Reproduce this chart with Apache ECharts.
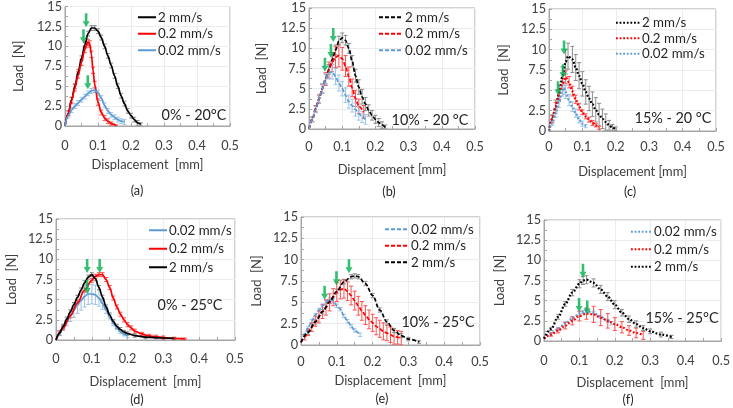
<!DOCTYPE html>
<html><head><meta charset="utf-8">
<script src="https://cdn.jsdelivr.net/npm/echarts@6/dist/echarts.min.js"></script>
<style>html,body{margin:0;padding:0;background:#fff}#c{width:733px;height:408px}</style>
</head><body><div id="c"></div>
<script>
// ---------- DATA ----------
const speedNames = ['2 mm/s', '0.2 mm/s', '0.02 mm/s'];
const xTickLabels = [0, 0.1, 0.2, 0.3, 0.4, 0.5];
const yTickLabels = [0, 2.5, 5, 7.5, 10, 12.5, 15];
const panelLabels = ['(a)', '(b)', '(c)', '(d)', '(e)', '(f)'];
const conditionLabels = ['0% - 20°C', '10% - 20 °C', '15% - 20 °C', '0% - 25°C', '10% - 25°C', '15% - 25°C'];

// (a) 0% - 20°C
const a_2 = [[0,0],[0.01,1.6],[0.02,3.3],[0.03,5.0],[0.04,6.8],[0.05,8.5],[0.06,10.2],[0.07,11.6],[0.08,12.3],[0.09,12.3],[0.1,11.9],[0.11,11.1],[0.12,10.0],[0.13,8.8],[0.14,7.6],[0.15,6.3],[0.16,5.0],[0.17,3.8],[0.18,2.8],[0.19,1.9],[0.2,1.3],[0.21,0.8],[0.22,0.4],[0.23,0.2]];
const a_2_err = [0,0.3,0.3,0.3,0.3,0.3,0.3,0.3,0.3,0.3,0.3,0.3,0.3,0.3,0.3,0.3,0.3,0.3,0.3,0.3,0.3,0.3,0.3,0.2];
const a_02 = [[0,0],[0.01,1.6],[0.02,3.2],[0.03,4.8],[0.04,6.4],[0.05,8.0],[0.06,9.6],[0.065,10.2],[0.07,10.5],[0.075,10.3],[0.08,9.0],[0.085,7.0],[0.09,5.2],[0.1,3.0],[0.11,1.7],[0.12,1.0],[0.13,0.6],[0.14,0.3],[0.155,0.05]];
const a_02_err = [0,0.3,0.4,0.4,0.4,0.4,0.4,0.4,0.4,0.4,0.4,0.4,0.4,0.4,0.3,0.3,0.3,0.2,0.1];
const a_002 = [[0,0],[0.01,1.3],[0.02,2.0],[0.03,2.5],[0.04,2.9],[0.05,3.3],[0.06,3.7],[0.07,4.1],[0.08,4.4],[0.09,4.5],[0.1,4.2],[0.11,3.5],[0.12,2.6],[0.13,1.9],[0.14,1.4],[0.15,1.1],[0.16,0.8],[0.17,0.6],[0.18,0.5]];
const a_002_err = [0,0.3,0.3,0.3,0.3,0.3,0.3,0.3,0.3,0.3,0.3,0.3,0.3,0.3,0.3,0.3,0.3,0.3,0.3];
const a_arrows = [[0.064,12.4],[0.056,10.4],[0.069,4.6]];

// (b) 10% - 20 °C
const b_2 = [[0,0],[0.01,1.2],[0.02,2.5],[0.03,3.7],[0.04,5.0],[0.05,6.2],[0.06,7.4],[0.07,8.6],[0.08,9.8],[0.09,10.9],[0.1,11.3],[0.11,11.0],[0.12,10.0],[0.13,8.4],[0.14,6.6],[0.15,5.2],[0.16,4.0],[0.17,3.1],[0.18,2.3],[0.19,1.7],[0.2,1.2],[0.21,0.8],[0.22,0.5],[0.23,0.2]];
const b_2_err = [0,0.3,0.4,0.5,0.5,0.6,0.6,0.6,0.6,0.6,0.6,0.6,0.6,0.7,0.8,0.9,0.9,0.8,0.7,0.6,0.5,0.5,0.4,0.3];
const b_02 = [[0,0],[0.01,1.2],[0.02,2.5],[0.03,3.7],[0.04,5.0],[0.05,6.2],[0.06,7.3],[0.07,8.3],[0.08,8.9],[0.09,9.1],[0.1,8.7],[0.11,7.8],[0.12,6.5],[0.13,5.1],[0.14,3.8],[0.15,2.8],[0.165,2.1]];
const b_02_err = [0,0.3,0.4,0.5,0.6,0.8,1.0,1.2,1.3,1.4,1.4,1.3,1.2,1.1,1.0,0.9,0.8];
const b_002 = [[0,0],[0.01,1.2],[0.02,2.4],[0.03,3.7],[0.04,5.0],[0.05,6.2],[0.06,7.0],[0.07,7.1],[0.08,6.5],[0.09,5.7],[0.1,5.0],[0.11,4.2],[0.12,3.4],[0.13,2.9],[0.14,2.4],[0.15,1.9],[0.16,1.5],[0.17,1.2]];
const b_002_err = [0,0.3,0.4,0.5,0.6,0.7,0.8,0.9,1.0,1.0,0.9,0.9,0.8,0.8,0.8,0.8,0.7,0.6];
const b_arrows = [[0.073,10.8],[0.066,8.8],[0.048,7.1]];

// (c) 15% - 20 °C
const c_2 = [[0,0],[0.01,1.5],[0.02,3.0],[0.03,4.6],[0.04,6.6],[0.05,8.5],[0.057,9.2],[0.07,8.8],[0.08,7.8],[0.09,6.8],[0.1,5.8],[0.11,4.8],[0.12,4.0],[0.13,3.3],[0.14,2.6],[0.15,2.0],[0.16,1.5],[0.17,1.1],[0.18,0.7],[0.19,0.4],[0.2,0.2]];
const c_2_err = [0,0.5,0.8,1.0,1.3,1.5,1.6,1.6,1.6,1.6,1.5,1.5,1.5,1.5,1.5,1.4,1.2,1.0,0.6,0.4,0.3];
const c_02 = [[0,0],[0.01,1.5],[0.02,3.0],[0.03,4.5],[0.04,5.8],[0.05,6.6],[0.06,6.0],[0.07,4.9],[0.08,3.9],[0.09,3.0],[0.1,2.3],[0.11,1.8],[0.12,1.4],[0.13,1.0],[0.14,0.7],[0.15,0.4]];
const c_02_err = [0,0.4,0.5,0.6,0.7,0.8,0.7,0.6,0.5,0.4,0.3,0.3,0.3,0.3,0.2,0.2];
const c_002 = [[0,0],[0.01,1.0],[0.02,2.2],[0.03,3.5],[0.04,5.0],[0.045,5.3],[0.05,4.8],[0.06,3.8],[0.07,3.0],[0.08,2.2],[0.09,1.4],[0.1,0.9],[0.11,0.6]];
const c_002_err = [0,0.3,0.5,0.6,0.7,0.8,0.8,0.7,0.6,0.5,0.4,0.3,0.2];
const c_arrows = [[0.045,9.4],[0.042,6.5],[0.027,4.4]];

// (d) 0% - 25°C
const d_002 = [[0,0],[0.01,0.75],[0.02,1.5],[0.03,2.25],[0.04,3.0],[0.05,3.7],[0.06,4.4],[0.07,4.9],[0.08,5.4],[0.09,5.7],[0.1,5.7],[0.11,5.6],[0.12,5.2],[0.13,4.5],[0.14,3.7],[0.15,2.9],[0.16,2.1],[0.17,1.5],[0.18,1.0],[0.19,0.7],[0.2,0.5]];
const d_002_err = [0,0.2,0.3,0.5,0.7,0.9,1.1,1.2,1.3,1.3,1.2,1.2,1.0,0.7,0.4,0.3,0.3,0.2,0.2,0.2,0.2];
const d_02 = [[0,0],[0.02,1.5],[0.04,3.0],[0.06,4.6],[0.08,6.2],[0.1,7.4],[0.11,7.9],[0.12,8.1],[0.13,8.1],[0.14,7.5],[0.15,6.5],[0.16,5.2],[0.17,4.1],[0.18,3.2],[0.19,2.5],[0.2,1.9],[0.21,1.5],[0.22,1.1],[0.24,0.75],[0.26,0.5],[0.28,0.4],[0.3,0.3],[0.33,0.2],[0.36,0.15]];
const d_02_err = [0,0.25,0.25,0.25,0.25,0.25,0.25,0.25,0.25,0.25,0.25,0.25,0.25,0.25,0.25,0.25,0.25,0.25,0.2,0.2,0.2,0.2,0.15,0.1];
const d_2 = [[0,0],[0.01,0.85],[0.02,1.7],[0.03,2.6],[0.04,3.5],[0.05,4.4],[0.06,5.3],[0.07,6.2],[0.08,7.1],[0.09,7.8],[0.1,8.1],[0.11,7.6],[0.12,6.5],[0.13,5.3],[0.14,4.1],[0.15,3.1],[0.16,2.3],[0.17,1.7],[0.18,1.3],[0.19,1.0],[0.2,0.8],[0.22,0.55],[0.25,0.35],[0.28,0.3],[0.3,0.25],[0.33,0.2]];
const d_2_err = [0,0.25,0.25,0.25,0.25,0.25,0.25,0.25,0.25,0.25,0.25,0.25,0.25,0.25,0.25,0.25,0.25,0.25,0.25,0.2,0.2,0.2,0.15,0.15,0.1,0.1];
const d_arrows = [[0.087,8.3],[0.122,8.3],[0.087,5.7]];

// (e) 10% - 25°C
const e_002 = [[0,0.3],[0.01,1.2],[0.02,2.0],[0.03,2.8],[0.04,3.5],[0.05,4.1],[0.06,4.6],[0.07,5.0],[0.08,5.4],[0.09,5.2],[0.1,4.6],[0.11,4.2],[0.12,3.4],[0.13,2.8],[0.14,2.2],[0.15,1.7],[0.165,1.2]];
const e_002_err = [0,0.2,0.2,0.2,0.2,0.2,0.2,0.2,0.2,0.2,0.2,0.2,0.2,0.2,0.2,0.2,0.2];
const e_02 = [[0,0.3],[0.01,0.9],[0.02,1.5],[0.03,2.1],[0.04,2.8],[0.05,3.3],[0.06,3.9],[0.07,4.4],[0.08,5.0],[0.09,5.6],[0.1,6.2],[0.11,6.5],[0.12,6.6],[0.13,6.3],[0.14,5.8],[0.15,5.2],[0.16,4.6],[0.17,4.0],[0.18,3.5],[0.19,3.0],[0.2,2.6],[0.21,2.2],[0.22,1.9],[0.23,1.6],[0.24,1.4],[0.25,1.2],[0.26,1.0],[0.27,0.9],[0.28,0.8]];
const e_02_err = [0,0.3,0.4,0.5,0.6,0.7,0.8,0.9,1.0,1.0,1.1,1.1,1.1,1.1,1.1,1.1,1.1,1.1,1.1,1.1,1.0,1.0,1.0,1.0,0.9,0.9,0.9,0.8,0.8];
const e_2 = [[0,0.3],[0.02,1.5],[0.04,2.7],[0.06,3.9],[0.08,5.1],[0.1,6.3],[0.12,7.4],[0.14,8.0],[0.15,8.1],[0.16,8.0],[0.18,7.2],[0.2,5.8],[0.22,4.1],[0.24,2.7],[0.26,1.7],[0.28,1.1],[0.3,0.7],[0.33,0.35]];
const e_2_err = [0,0.25,0.25,0.25,0.25,0.25,0.25,0.25,0.25,0.25,0.25,0.25,0.25,0.25,0.25,0.25,0.2,0.15];
const e_arrows = [[0.134,8.4],[0.099,7.0],[0.066,5.3]];

// (f) 15% - 25°C
const f_002 = [[0,0.3],[0.02,0.9],[0.04,1.5],[0.06,2.2],[0.08,2.8],[0.1,3.4],[0.11,3.6],[0.12,3.7],[0.14,3.5],[0.16,3.0],[0.18,2.5],[0.19,2.2]];
const f_002_err = [0,0.2,0.2,0.2,0.2,0.2,0.2,0.2,0.2,0.2,0.2,0.2];
const f_02 = [[0,0.3],[0.02,0.8],[0.04,1.3],[0.06,1.9],[0.08,2.5],[0.1,3.1],[0.12,3.4],[0.14,3.3],[0.16,2.9],[0.18,2.5],[0.2,2.1],[0.22,1.7],[0.24,1.3],[0.26,1.0],[0.28,0.7]];
const f_02_err = [0,0.2,0.3,0.4,0.5,0.6,0.7,1.0,1.0,0.9,0.8,0.7,0.6,0.6,0.5];
const f_2 = [[0,0.3],[0.02,1.5],[0.04,3.0],[0.06,4.6],[0.08,6.0],[0.1,7.1],[0.11,7.5],[0.12,7.6],[0.14,7.2],[0.16,6.4],[0.18,5.5],[0.2,4.5],[0.22,3.5],[0.24,2.7],[0.26,2.1],[0.28,1.6],[0.3,1.2],[0.33,0.8],[0.36,0.5]];
const f_2_err = [0,0.2,0.3,0.3,0.4,0.5,0.5,0.5,0.5,0.5,0.5,0.5,0.4,0.4,0.4,0.3,0.3,0.3,0.2];
const f_arrows = [[0.11,7.85],[0.099,3.6],[0.122,3.3]];

// ---------- LAYOUT / STYLE ----------
const FONT = 'Lato, "Open Sans", sans-serif';
// font sizes fitted so that text widths match the picture
const meas = document.createElement('canvas').getContext('2d');
function fitSize(sample, targetPx) {
  meas.font = '100px ' + FONT;
  return Math.round(100 * targetPx / meas.measureText(sample).width * 10) / 10;
}
const FS_TICK = fitSize('12.5', 25);
const FS_NAME = fitSize('Displacement', 77);
const FS_LEG  = fitSize('0.02 mm/s', 63);
const FS_COND = fitSize('0% - 20°C', 65);
const FS_LAB  = FS_TICK;

const lineColors = {'2':'#000000','02':'#ff0000','002':'#5b9bd5'};
const errColors  = {'2':'#8c8c8c','02':'#ff5050','002':'#9dc3e6'};
const speedIdx = {'2':0,'02':1,'002':2};
const dashFor = {solid:'solid', dashed:[4,2], dotted:[1.8,1.8]};

const panels = [
  {grid:{left:65,top:6,width:165,height:120}, lt:'solid', order:['2','02','002'],
   series:{'2':[a_2,a_2_err],'02':[a_02,a_02_err],'002':[a_002,a_002_err]}, arrows:a_arrows,
   legend:{left:137,top:9,itemWidth:18,lh:16.5}, cond:[194,115], lab:[137,191], yGap:40, xGap:32, xMargin:13, xName:'Displacement  [mm]'},
  {grid:{left:309,top:8,width:166,height:121}, lt:'dashed', order:['2','02','002'],
   series:{'2':[b_2,b_2_err],'02':[b_02,b_02_err],'002':[b_002,b_002_err]}, arrows:b_arrows,
   legend:{left:378,top:9,itemWidth:24,lh:16.5}, cond:[430,120], lab:[389,192], yGap:41, xGap:34, xMargin:11, xName:'Displacement [mm]'},
  {grid:{left:549,top:9,width:167,height:122}, lt:'dotted', order:['2','02','002'],
   series:{'2':[c_2,c_2_err],'02':[c_02,c_02_err],'002':[c_002,c_002_err]}, arrows:c_arrows,
   legend:{left:615,top:15,itemWidth:24,lh:15.5}, cond:[673,118], lab:[630,192], yGap:39, xGap:34, xMargin:9, xName:'Displacement [mm]'},
  {grid:{left:56,top:219,width:179,height:121}, lt:'solid', order:['002','02','2'],
   series:{'2':[d_2,d_2_err],'02':[d_02,d_02_err],'002':[d_002,d_002_err]}, arrows:d_arrows,
   legend:{left:148,top:221,itemWidth:18,lh:18.5}, cond:[190,305], lab:[137,400], yGap:38, xGap:35, xMargin:12, xName:'Displacement  [mm]'},
  {grid:{left:301,top:217,width:179,height:128}, lt:'dashed', order:['002','02','2'],
   series:{'2':[e_2,e_2_err],'02':[e_02,e_02_err],'002':[e_002,e_002_err]}, arrows:e_arrows,
   legend:{left:384,top:221,itemWidth:24,lh:16.5}, cond:[438,322], lab:[382,399], yGap:38, xGap:29, xMargin:10, xName:'Displacement  [mm]'},
  {grid:{left:544,top:220,width:179,height:121}, lt:'dotted', order:['002','02','2'],
   series:{'2':[f_2,f_2_err],'02':[f_02,f_02_err],'002':[f_002,f_002_err]}, arrows:f_arrows,
   legend:{left:630,top:223,itemWidth:21,lh:17.5}, cond:[682,318], lab:[628,400], yGap:38, xGap:35, xMargin:13, xName:'Displacement  [mm]'}
];

const ZW = '\u200b';
const arrowPath = 'path://M2.2,0 L4.8,0 L4.8,8 L7,8 L3.5,14 L0,8 L2.2,8 Z';

function errRender(params, api) {
  const x = api.value(0), y = api.value(1), e = api.value(2);
  if (!e) return null;
  const hi = api.coord([x, y + e]);
  const lo = api.coord([x, Math.max(0, y - e)]);
  const w = 2;
  const st = {stroke: api.visual('color'), lineWidth: 1};
  return {type:'group', children:[
    {type:'line', shape:{x1:hi[0],y1:hi[1],x2:lo[0],y2:lo[1]}, style:st},
    {type:'line', shape:{x1:hi[0]-w,y1:hi[1],x2:hi[0]+w,y2:hi[1]}, style:st},
    {type:'line', shape:{x1:lo[0]-w,y1:lo[1],x2:lo[0]+w,y2:lo[1]}, style:st}
  ]};
}

const option = {
  animation:false, backgroundColor:'#fff',
  grid:[], xAxis:[], yAxis:[], series:[], legend:[], graphic:[]
};

panels.forEach((p, i) => {
  option.grid.push(Object.assign({show:true, borderColor:'#a6a6a6', borderWidth:1, containLabel:false}, p.grid));
  option.xAxis.push({
    type:'value', gridIndex:i, min:xTickLabels[0], max:xTickLabels[xTickLabels.length-1],
    interval:xTickLabels[1]-xTickLabels[0],
    name:p.xName, nameLocation:'middle', nameGap:p.xGap,
    nameTextStyle:{fontFamily:FONT, fontSize:FS_NAME, color:'#404040'},
    axisLine:{lineStyle:{color:'#a6a6a6'}},
    axisTick:{show:true, inside:true, length:3, lineStyle:{color:'#a6a6a6'}},
    minorTick:{show:true, splitNumber:2, length:3, lineStyle:{color:'#a6a6a6'}},
    axisLabel:{fontFamily:FONT, fontSize:FS_TICK, color:'#404040', margin:p.xMargin},
    splitLine:{show:true, lineStyle:{color:'#ececec', width:1}}
  });
  option.yAxis.push({
    type:'value', gridIndex:i, min:yTickLabels[0], max:yTickLabels[yTickLabels.length-1],
    interval:yTickLabels[1]-yTickLabels[0],
    name:'Load  [N]', nameLocation:'middle', nameGap:p.yGap,
    nameTextStyle:{fontFamily:FONT, fontSize:FS_NAME, color:'#404040'},
    axisLine:{show:true, lineStyle:{color:'#a6a6a6'}},
    axisTick:{show:true, inside:true, length:3, lineStyle:{color:'#a6a6a6'}},
    minorTick:{show:true, splitNumber:2, length:3, lineStyle:{color:'#a6a6a6'}},
    axisLabel:{fontFamily:FONT, fontSize:FS_TICK, color:'#404040', margin:3},
    splitLine:{show:true, lineStyle:{color:'#ececec', width:1}}
  });
  const legendNames = [];
  p.order.forEach(k => {
    const [pts, err] = p.series[k];
    const nm = speedNames[speedIdx[k]] + ZW.repeat(i + 1);
    legendNames.push(nm);
    option.series.push({
      type:'custom', name:'err'+i+k, xAxisIndex:i, yAxisIndex:i, clip:true,
      renderItem:errRender, itemStyle:{color:errColors[k]},
      encode:{x:0, y:1}, z:2, silent:true,
      data:pts.map((pt, j) => [pt[0], pt[1], err[j]])
    });
    option.series.push({
      type:'line', name:nm, xAxisIndex:i, yAxisIndex:i, data:pts,
      smooth:0.35, smoothMonotone:'x', symbol:'none', z:3, silent:true,
      itemStyle:{color:lineColors[k]},
      lineStyle:{color:lineColors[k], width:p.lt === 'dotted' ? 2.2 : 1.7, type:dashFor[p.lt]}
    });
  });
  option.series.push({
    type:'scatter', name:'arrows'+i, xAxisIndex:i, yAxisIndex:i, data:p.arrows,
    symbol:arrowPath, symbolSize:[7,14], symbolOffset:[0,'-50%'], z:5, silent:true,
    itemStyle:{color:'#00b050'}
  });
  option.legend.push({
    data:legendNames, orient:'vertical', left:p.legend.left, top:p.legend.top,
    itemWidth:p.legend.itemWidth, itemHeight:10, itemGap:0, padding:0,
    selectedMode:false,
    itemStyle:{opacity:0},
    formatter:n => n.replace(/\u200b/g, ''),
    textStyle:{fontFamily:FONT, fontSize:FS_LEG, color:'#262626', lineHeight:p.legend.lh, padding:[0,0,0,-3]}
  });
  option.graphic.push({type:'text', x:p.cond[0], y:p.cond[1], z:10,
    style:{text:conditionLabels[i], font:FS_COND + 'px ' + FONT, fill:'#262626', align:'center', verticalAlign:'middle'}});
  option.graphic.push({type:'text', x:p.lab[0], y:p.lab[1], z:10,
    style:{text:panelLabels[i], font:FS_LAB + 'px ' + FONT, fill:'#262626', align:'center', verticalAlign:'middle'}});
});

const chart = echarts.init(document.getElementById('c'), null, {renderer:'canvas'});
chart.setOption(option);
</script>
</body></html>
